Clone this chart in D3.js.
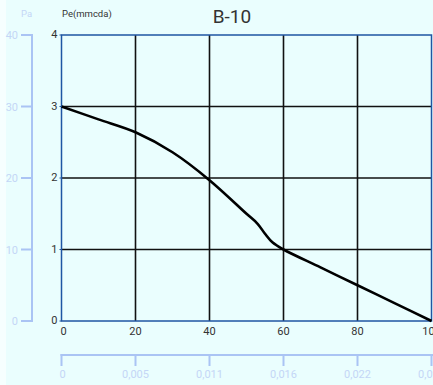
<!DOCTYPE html>
<html><head><meta charset="utf-8">
<script src="https://cdn.jsdelivr.net/npm/d3@7"></script>
<style>
html,body{margin:0;padding:0;background:#f6ffff;}
svg{display:block;font-family:Roboto, "DejaVu Sans", sans-serif;}
</style></head>
<body><svg id="c" width="433" height="385"></svg>
<script>
const title = "B-10";
const yTitle = "Pe(mmcda)";
const paTitle = "Pa";
const flow = [0, 10, 20, 30, 40, 50, 53, 55, 57, 60, 70, 80, 90, 100];
const pe = [3.0, 2.82, 2.64, 2.36, 1.97, 1.5, 1.36, 1.22, 1.1, 1.0, 0.75, 0.5, 0.25, 0];
const xTicks = [0, 20, 40, 60, 80, 100];
const yTicks = [0, 1, 2, 3, 4];
const paTicks = [0, 10, 20, 30, 40];
const m3Labels = ["0", "0,005", "0,011", "0,016", "0,022", "0,027"];

const svg = d3.select("#c");
svg.append("rect").attr("x",6).attr("y",0).attr("width",427).attr("height",385).attr("fill","#eafefe");

const L=61.5, R=431.5, T=35, B=321;
const x = d3.scaleLinear().domain([0,100]).range([L,R]);
const y = d3.scaleLinear().domain([0,4]).range([B,T]);
const yPa = d3.scaleLinear().domain([0,40]).range([B,T]);

// grid
const g = svg.append("g");
g.selectAll(".vx").data(xTicks.slice(1,-1)).enter().append("line")
  .attr("x1",d=>x(d)).attr("x2",d=>x(d)).attr("y1",T).attr("y2",B)
  .attr("stroke","#111").attr("stroke-width",1.6);
g.selectAll(".hy").data(yTicks.slice(1,-1)).enter().append("line")
  .attr("x1",L).attr("x2",R).attr("y1",d=>y(d)).attr("y2",d=>y(d))
  .attr("stroke","#111").attr("stroke-width",1.6);
// border
svg.append("rect").attr("x",L).attr("y",T).attr("width",R-L).attr("height",B-T)
  .attr("fill","none").attr("stroke","#1f56a3").attr("stroke-width",1.5);

// curve
const line = d3.line().x((d,i)=>x(flow[i])).y(d=>y(d)).curve(d3.curveCatmullRom.alpha(0.5));
svg.append("path").attr("d",line(pe)).attr("fill","none").attr("stroke","#000").attr("stroke-width",2.6);

// tick labels
svg.selectAll(".xl").data(xTicks).enter().append("text")
  .attr("x",d=>x(d)).attr("y",B+14).attr("text-anchor",(d,i)=>i===0?"start":"middle")
  .attr("dx",(d,i)=>i===0?-1:0)
  .attr("font-size",11).attr("fill","#333").text(d=>d);
svg.selectAll(".yl").data(yTicks).enter().append("text")
  .attr("x",L-4).attr("y",d=>y(d)+3).attr("text-anchor","end")
  .attr("font-size",11).attr("fill","#333").text(d=>d);
svg.selectAll(".yt").data(yTicks).enter().append("line")
  .attr("x1",L-2).attr("x2",L).attr("y1",d=>y(d)).attr("y2",d=>y(d))
  .attr("stroke","#1f56a3").attr("stroke-width",1);

// title
svg.append("text").attr("x",232).attr("y",23).attr("text-anchor","middle")
  .attr("font-size",19).attr("fill","#333").text(title);
svg.append("text").attr("x",62).attr("y",17).attr("font-size",9.5).attr("fill","#333").text(yTitle);
svg.append("text").attr("x",21).attr("y",17).attr("font-size",9.5).attr("fill","#c4d6f6").text(paTitle);

// Pa axis
const paCol="#aac4f4", paTxt="#c4d6f6";
svg.append("line").attr("x1",32).attr("x2",32).attr("y1",T-1).attr("y2",B+1)
  .attr("stroke",paCol).attr("stroke-width",2);
svg.selectAll(".pt").data(paTicks).enter().append("line")
  .attr("x1",21).attr("x2",33).attr("y1",d=>yPa(d)).attr("y2",d=>yPa(d))
  .attr("stroke",paCol).attr("stroke-width",2);
svg.selectAll(".pl").data(paTicks).enter().append("text")
  .attr("x",18).attr("y",d=>yPa(d)+4).attr("text-anchor","end")
  .attr("font-size",11).attr("fill",paTxt).text(d=>d);

// m3/s axis
svg.append("line").attr("x1",L-1).attr("x2",433).attr("y1",355).attr("y2",355)
  .attr("stroke",paCol).attr("stroke-width",2);
svg.selectAll(".mt").data(xTicks).enter().append("line")
  .attr("x1",d=>x(d)).attr("x2",d=>x(d)).attr("y1",354).attr("y2",366)
  .attr("stroke",paCol).attr("stroke-width",2);
svg.selectAll(".ml").data(xTicks).enter().append("text")
  .attr("x",d=>x(d)).attr("y",378).attr("text-anchor",(d,i)=>i===0?"start":"middle")
  .attr("dx",(d,i)=>i===0?-2:0)
  .attr("font-size",11).attr("fill",paTxt).text((d,i)=>m3Labels[i]);
</script></body></html>
